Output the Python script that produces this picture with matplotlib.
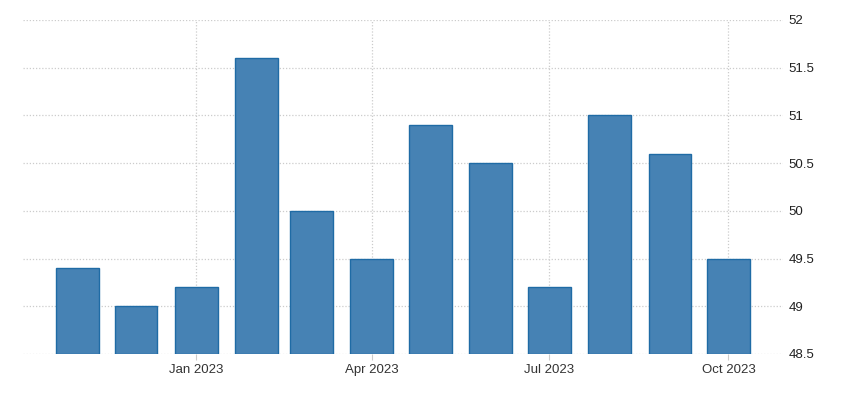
import datetime as dt
import matplotlib
matplotlib.use("Agg")
import matplotlib.pyplot as plt
import matplotlib.dates as mdates

plt.rcParams['font.family'] = ['Liberation Sans', 'DejaVu Sans']

# monthly values, Nov 2022 .. Oct 2023
months = ['2022-11', '2022-12', '2023-01', '2023-02', '2023-03', '2023-04',
          '2023-05', '2023-06', '2023-07', '2023-08', '2023-09', '2023-10']
values = [49.4, 49.0, 49.2, 51.6, 50.0, 49.5, 50.9, 50.5, 49.2, 51.0, 50.6, 49.5]
tick_months = ['2023-01', '2023-04', '2023-07', '2023-10']
tick_labels = ['Jan 2023', 'Apr 2023', 'Jul 2023', 'Oct 2023']
y_ticks = [48.5, 49, 49.5, 50, 50.5, 51, 51.5, 52]
y_labels = ['48.5', '49', '49.5', '50', '50.5', '51', '51.5', '52']

dates = [dt.datetime.strptime(m, '%Y-%m') for m in months]
tick_dates = [dt.datetime.strptime(m, '%Y-%m') for m in tick_months]

fig = plt.figure(figsize=(8.5, 3.98), dpi=100)
ax = fig.add_axes([23 / 850, 44 / 398, 760 / 850, 334 / 398])

ax.bar(dates, [v - 48.5 for v in values], bottom=48.5, width=22,
       color='#4682b4', edgecolor='#1f6ba5', linewidth=1.0, zorder=3)

ax.set_xlim(dates[0] - dt.timedelta(days=28), dates[-1] + dt.timedelta(days=28))
ax.set_ylim(48.5, 52)

ax.set_xticks(tick_dates)
ax.set_xticklabels(tick_labels)
ax.set_yticks(y_ticks)
ax.set_yticklabels(y_labels)
ax.yaxis.tick_right()

for s in ax.spines.values():
    s.set_visible(False)

ax.grid(True, color='#cccccc', linestyle=(0, (1, 1.5)), linewidth=0.9, zorder=0)
ax.tick_params(axis='y', length=0, pad=4, labelsize=9.5, labelcolor='#222222')
ax.tick_params(axis='x', length=4, color='#cccccc', pad=3, labelsize=9.5,
               labelcolor='#333333')

fig.savefig('out.png', dpi=100)
